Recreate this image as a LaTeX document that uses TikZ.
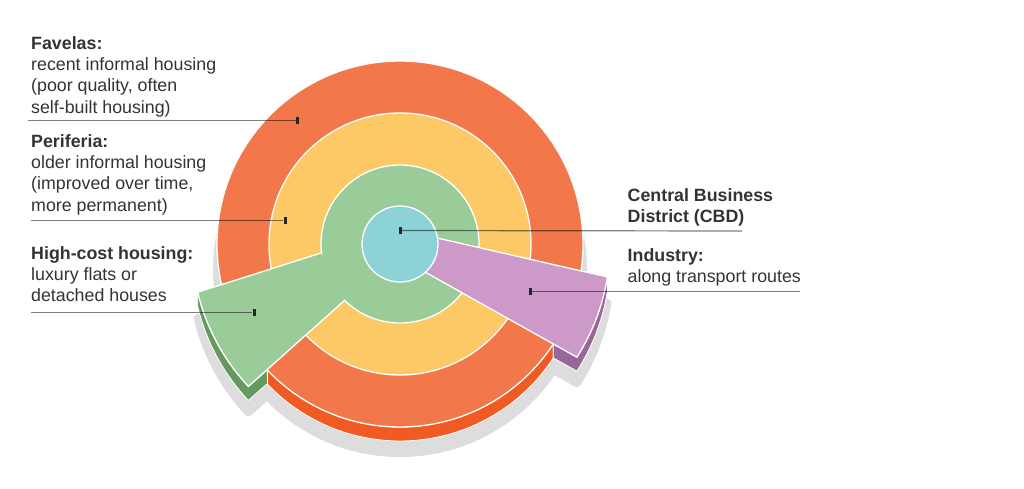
\documentclass[tikz,border=0pt]{standalone}
\usepackage{fontspec}
\setmainfont{Liberation Sans}
\definecolor{favela}{HTML}{F2774A}
\definecolor{favelaside}{HTML}{F05A23}
\definecolor{periferia}{HTML}{FCC966}
\definecolor{highcost}{HTML}{99CC99}
\definecolor{highcostside}{HTML}{669960}
\definecolor{cbd}{HTML}{8CD2D7}
\definecolor{industry}{HTML}{CC99C9}
\definecolor{industryside}{HTML}{996699}
\definecolor{shadowgrey}{HTML}{DDDDDD}
\definecolor{labeltext}{HTML}{333333}
\tikzset{
zone/.style={draw=white, line width=1.3}, % top faces of the rings
wall/.style={draw=white, line width=0.8}, % side faces
leader/.style={draw=black, opacity=0.5, line width=1.2},
leaderdot/.style={fill=black!85, minimum width=3pt, minimum height=7pt, inner sep=0pt},
zonetext/.style={align=left, anchor=base west, inner sep=0pt, text=labeltext,
  font=\fontsize{17.8}{21.3}\selectfont}} % base = last line

\begin{document}
\begin{tikzpicture}[x=1pt, y=-1pt]
\useasboundingbox (0,0) rectangle (1024,488);

\coordinate (c) at (400,244);
% high-cost wedge
\coordinate (g1) at (321,253);
\coordinate (g2) at (197.7,292.2);
\coordinate (g3) at (248.4,386.4);
\coordinate (g4) at (345,300);
\coordinate (gx) at (267.3,369.9);
% industry wedge
\coordinate (p1) at (429.2,236.2);
\coordinate (p2) at (607.4,276.9);
\coordinate (p3) at (576.9,357.1);
\coordinate (p4) at (418,268.1);
\coordinate (px) at (553.3,343.9);

% shadow
\begin{scope}[transform canvas={yshift=-26pt}, fill=shadowgrey, draw=shadowgrey, line width=8, line join=round]
  \filldraw (c) circle[radius=183];
  \filldraw (g1) -- (g2) arc[start angle=166.6, end angle=136.8, radius=208] -- (g4) -- cycle;
  \filldraw (p1) -- (p2) arc[start angle=9, end angle=32.6, radius=210] -- (p4) -- cycle;
\end{scope}

% side faces
\filldraw[wall, fill=favelaside] (px) arc[start angle=33.1, end angle=136.5, radius=183]
  -- ++(0,14) arc[start angle=136.5, end angle=33.1, radius=183] -- cycle;
\filldraw[wall, fill=highcostside] (gx) -- (g3) arc[start angle=136.8, end angle=166.6, radius=208]
  -- ++(0,14) arc[start angle=166.6, end angle=136.8, radius=208] -- ++(19.1,-17) -- cycle;
\filldraw[wall, fill=industryside] (px) -- (p3) arc[start angle=32.6, end angle=9, radius=210]
  -- ++(0,14) arc[start angle=9, end angle=32.6, radius=210] -- ++(-23.6,-13.2) -- cycle;

% top faces
\filldraw[zone, fill=favela] (c) circle[radius=183];
\filldraw[zone, fill=periferia] (c) circle[radius=131];
\filldraw[zone, fill=highcost] (c) circle[radius=79];
\fill[highcost] (g1) -- (g2) arc[start angle=166.6, end angle=136.8, radius=208] -- (g4) -- cycle;
\draw[zone] (g1) -- (g2) arc[start angle=166.6, end angle=136.8, radius=208] -- (g4);
\filldraw[zone, fill=industry] (p1) -- (p2) arc[start angle=9, end angle=32.6, radius=210] -- (p4) -- cycle;
\filldraw[zone, fill=cbd] (c) circle[radius=38];

% labels
\node[zonetext] (favtext) at (31,113.2) {\textbf{Favelas:}\\recent informal housing\\(poor quality, often\\self-built housing)};
\node[zonetext] (pertext) at (31,211) {\textbf{Periferia:}\\older informal housing\\(improved over time,\\more permanent)};
\node[zonetext] (hightext) at (31,301.8) {\textbf{High-cost housing:}\\luxury flats or\\detached houses};
\node[zonetext] (cbdtext) at (627.5,222.8) {\textbf{Central Business}\\\textbf{District (CBD)}};
\node[zonetext] (indtext) at (627.5,282.8) {\textbf{Industry:}\\along transport routes};

% leader lines
\coordinate (favend) at (28,120.7);
\coordinate (perend) at (31,220.7);
\coordinate (highend) at (31,312.7);
\coordinate (cbdend) at (742,231);
\coordinate (indend) at (800,291.7);
\node[leaderdot] (favdot) at (297.5,120.7) {};
\node[leaderdot] (perdot) at (285,220.7) {};
\node[leaderdot] (highdot) at (254,312.7) {};
\node[leaderdot] (cbddot) at (400,230.5) {};
\node[leaderdot] (inddot) at (530,291.7) {};
\draw[leader] (favend) -- (favdot);
\draw[leader] (perend) -- (perdot);
\draw[leader] (highend) -- (highdot);
\draw[leader] (cbddot) -- (cbdend);
\draw[leader] (inddot) -- (indend);
\end{tikzpicture}
\end{document}
